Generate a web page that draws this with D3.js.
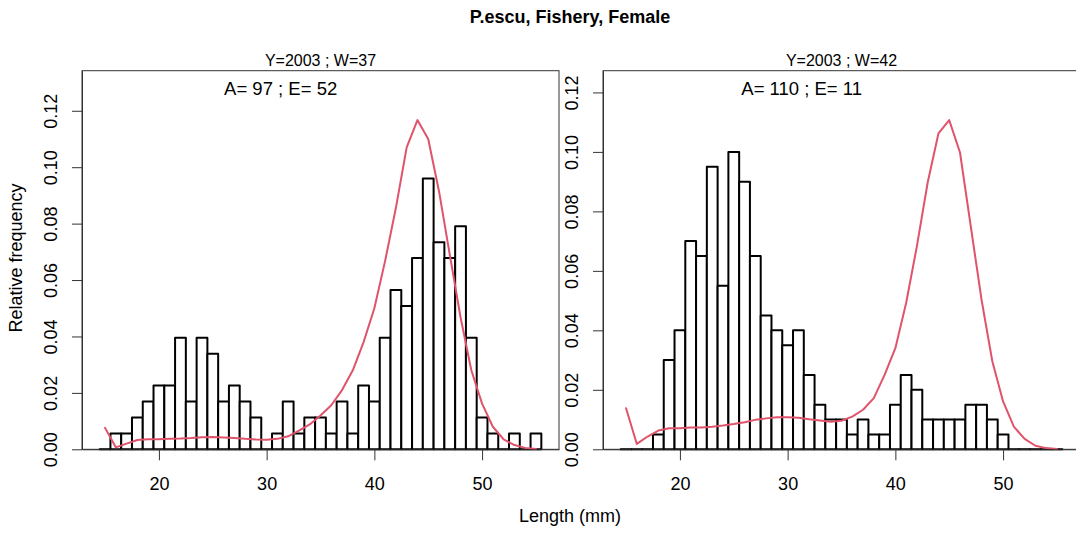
<!DOCTYPE html>
<html>
<head>
<meta charset="utf-8">
<script src="https://cdn.jsdelivr.net/npm/d3@7"></script>
<style>
  html, body { margin: 0; padding: 0; background: #fff; }
  svg { display: block; font-family: "Liberation Sans", Arial, Helvetica, sans-serif; }
</style>
</head>
<body>
<svg id="chart" width="1076" height="534"></svg>
<script>
// Length classes (bin mid-points, mm)
const lengthMid = [15, 16, 17, 18, 19, 20, 21, 22, 23, 24, 25, 26, 27, 28, 29, 30,
                   31, 32, 33, 34, 35, 36, 37, 38, 39, 40, 41, 42, 43, 44, 45, 46,
                   47, 48, 49, 50, 51, 52, 53, 54, 55];

// Week 37: observed relative frequency and fitted model
const freqW37 = [0, 0.0056, 0.0056, 0.0113, 0.0169, 0.0226, 0.0226, 0.0395, 0.0169, 0.0395,
                 0.0339, 0.0169, 0.0226, 0.0169, 0.0113, 0, 0.0056, 0.0169, 0.0056, 0.0113,
                 0.0113, 0.0056, 0.0169, 0.0056, 0.0226, 0.0169, 0.0395, 0.0565, 0.0508, 0.0678,
                 0.0960, 0.0734, 0.0678, 0.0791, 0.0395, 0.0113, 0.0056, 0, 0.0056, 0, 0.0056];
const fitW37 = [0.0076, 0.0007, 0.0020, 0.0033, 0.0036, 0.0036, 0.0037, 0.0038, 0.0040, 0.0043,
                0.0044, 0.0042, 0.0040, 0.0037, 0.0035, 0.0034, 0.0037, 0.0046, 0.0066, 0.0088,
                0.0120, 0.0156, 0.0210, 0.0280, 0.0380, 0.0500, 0.0668, 0.0856, 0.1070, 0.1167,
                0.1100, 0.0915, 0.0690, 0.0468, 0.0280, 0.0162, 0.0080, 0.0035, 0.0015, 0.0005, 0.0001];

// Week 42: observed relative frequency and fitted model
const freqW42 = [0, 0, 0, 0.005, 0.030, 0.040, 0.070, 0.065, 0.095, 0.055,
                 0.100, 0.090, 0.065, 0.045, 0.040, 0.035, 0.040, 0.025, 0.015, 0.010,
                 0.010, 0.005, 0.010, 0.005, 0.005, 0.015, 0.025, 0.020, 0.010, 0.010,
                 0.010, 0.010, 0.015, 0.015, 0.010, 0.005, 0, 0, 0, 0, 0];
const fitW42 = [0.0138, 0.0018, 0.0043, 0.0063, 0.0071, 0.0071, 0.0073, 0.0073, 0.0076, 0.0080,
                0.0085, 0.0091, 0.0099, 0.0104, 0.0108, 0.0108, 0.0106, 0.0101, 0.0097, 0.0093,
                0.0096, 0.0110, 0.0133, 0.0172, 0.0250, 0.0340, 0.0492, 0.0683, 0.0897, 0.1062,
                0.1107, 0.0998, 0.0750, 0.0503, 0.0296, 0.0161, 0.0076, 0.0035, 0.0012, 0.0004, 0.0001];

const panelTitles = ["Y=2003 ; W=37", "Y=2003 ; W=42"];
const panelNotes = ["A= 97 ; E= 52", "A= 110 ; E= 11"];
const yTickValues = [0, 0.02, 0.04, 0.06, 0.08, 0.10, 0.12];
const xTickValues = [20, 30, 40, 50];
const binWidth = 1;

const mainTitle = "P.escu, Fishery, Female";
const xLabel = "Length (mm)";
const yLabel = "Relative frequency";

// ---- layout ----
const svg = d3.select("#chart");
const plotW = 477, plotTop = 70.7, plotBottom = 449.3;
const xDomain = [12.86, 57.14];
const noteX = 31.3;           // data x where the A/E note is centred
const lineColor = "#DF536B";
const frameColor = "#333";

const panels = [
  { left: 82,  title: panelTitles[0], note: panelNotes[0], freq: freqW37, fit: fitW37 },
  { left: 603, title: panelTitles[1], note: panelNotes[1], freq: freqW42, fit: fitW42 }
];

panels.forEach(p => {
  const x = d3.scaleLinear().domain(xDomain).range([p.left, p.left + plotW]);
  const yMax = 1.15 * d3.max(p.fit.concat(p.freq));
  const y = d3.scaleLinear().domain([0, yMax]).range([plotBottom, plotTop]);
  const g = svg.append("g");

  // frame
  g.append("rect")
    .attr("x", p.left).attr("y", plotTop)
    .attr("width", plotW).attr("height", plotBottom - plotTop)
    .attr("fill", "none").attr("stroke", frameColor).attr("stroke-width", 1);

  // histogram bars (paths so that empty classes still show as a line)
  const bars = lengthMid.map((m, i) => ({ m, v: p.freq[i] }));
  g.selectAll("path.bar").data(bars).join("path")
    .attr("class", "bar")
    .attr("d", d => {
      const x0 = x(d.m - binWidth / 2), x1 = x(d.m + binWidth / 2);
      const y0 = y(0), y1 = y(d.v);
      return `M${x0},${y0}V${y1}H${x1}V${y0}Z`;
    })
    .attr("fill", "#fff").attr("stroke", "#000")
    .attr("stroke-width", 2).attr("stroke-linejoin", "round");

  // fitted curve
  const fitPts = lengthMid.map((m, i) => [m, p.fit[i]]);
  g.append("path")
    .datum(fitPts)
    .attr("d", d3.line().x(d => x(d[0])).y(d => y(d[1])))
    .attr("fill", "none").attr("stroke", lineColor)
    .attr("stroke-width", 2).attr("stroke-linejoin", "round").attr("stroke-linecap", "round");

  // y axis
  const yg = g.append("g")
    .attr("transform", `translate(${p.left},0)`)
    .call(d3.axisLeft(y).tickValues(yTickValues).tickFormat(d3.format(".2f"))
      .tickSize(10).tickSizeOuter(0))
    .attr("font-family", null).attr("font-size", null);
  yg.select(".domain").attr("stroke", frameColor);
  yg.selectAll(".tick line").attr("stroke", frameColor);
  yg.selectAll(".tick text")
    .attr("x", null).attr("dy", null)
    .attr("transform", "translate(-25,0) rotate(-90)")
    .attr("text-anchor", "middle")
    .attr("fill", "#000").style("font-size", "18px");

  // x axis
  const xg = g.append("g")
    .attr("transform", `translate(0,${plotBottom})`)
    .call(d3.axisBottom(x).tickValues(xTickValues).tickSize(11).tickSizeOuter(0))
    .attr("font-family", null).attr("font-size", null);
  xg.select(".domain").attr("stroke", frameColor);
  xg.selectAll(".tick line").attr("stroke", frameColor);
  xg.selectAll(".tick text")
    .attr("y", 40.7).attr("dy", null)
    .attr("fill", "#000").style("font-size", "18px");

  // panel heading and note
  g.append("text")
    .attr("x", p.left + plotW / 2).attr("y", 66)
    .attr("text-anchor", "middle").style("font-size", "16px")
    .text(p.title);
  g.append("text")
    .attr("x", x(noteX)).attr("y", 95)
    .attr("text-anchor", "middle").style("font-size", "18.5px")
    .text(p.note);
});

// figure title and shared axis labels
svg.append("text")
  .attr("x", 570).attr("y", 23)
  .attr("text-anchor", "middle")
  .style("font-size", "18px").style("font-weight", "bold")
  .text(mainTitle);

svg.append("text")
  .attr("x", 570).attr("y", 522)
  .attr("text-anchor", "middle").style("font-size", "18px")
  .text(xLabel);

svg.append("text")
  .attr("transform", "translate(22,258) rotate(-90)")
  .attr("text-anchor", "middle").style("font-size", "18px")
  .text(yLabel);
</script>
</body>
</html>
